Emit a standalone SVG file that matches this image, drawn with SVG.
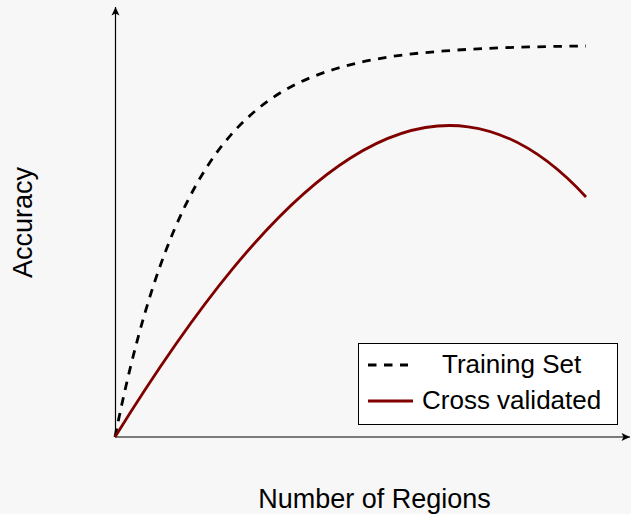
<svg xmlns="http://www.w3.org/2000/svg" width="631" height="514" viewBox="0 0 631 514">
  <style>
    .lbl { font-family: "Liberation Sans", Arial, sans-serif; fill: #000; }
    .axis { stroke: #000; stroke-width: 1.2; fill: none; }
    .train { stroke: #000; stroke-width: 2.8; fill: none; stroke-dasharray: 8.5 7.5; }
    .cv { stroke: #800000; stroke-width: 2.8; fill: none; }
  </style>
  <defs>
    <marker id="arr" markerUnits="userSpaceOnUse" markerWidth="12" markerHeight="12" viewBox="-10 -6 12 12" refX="0" refY="0" orient="auto">
      <path d="M0,0 L-8.5,-4 L-6.5,0 L-8.5,4 Z" fill="#000"/>
    </marker>
  </defs>
  <rect x="0" y="0" width="631" height="514" fill="#f7f7f7"/>
  <g id="axes">
    <line class="axis" x1="115.5" y1="437" x2="115.5" y2="7" marker-end="url(#arr)"/>
    <line class="axis" x1="115" y1="437" x2="630" y2="437" marker-end="url(#arr)"/>
  </g>
  <g id="curves">
    <path id="training" class="train" d="M115,437 C125,387.2 135,346.8 145,312.8 C158.33,267.45 171.67,233.48 185,206.2 C205,165.28 225,139.3 245,120.2 C275,91.55 305,78.14 335,69 C371.67,57.83 408.33,53.66 445,50.9 C492,47.36 539,46.59 586,46"/>
    <path id="crossval" class="cv" d="M115,437 C272,183.9 429,26 586,197"/>
  </g>
  <g id="legend">
    <rect x="358.5" y="343.5" width="259" height="81" fill="#fff" stroke="#000" stroke-width="1"/>
    <line class="train" x1="368" y1="365" x2="408" y2="365"/>
    <text class="lbl" x="442" y="373" font-size="26">Training Set</text>
    <line class="cv" x1="368" y1="401" x2="413" y2="401"/>
    <text class="lbl" x="422" y="409" font-size="26">Cross validated</text>
  </g>
  <g id="labels">
    <text class="lbl" x="374.5" y="508" font-size="27" text-anchor="middle">Number of Regions</text>
    <text class="lbl" x="0" y="0" font-size="27" text-anchor="middle" transform="translate(32,222.5) rotate(-90)">Accuracy</text>
  </g>
</svg>
